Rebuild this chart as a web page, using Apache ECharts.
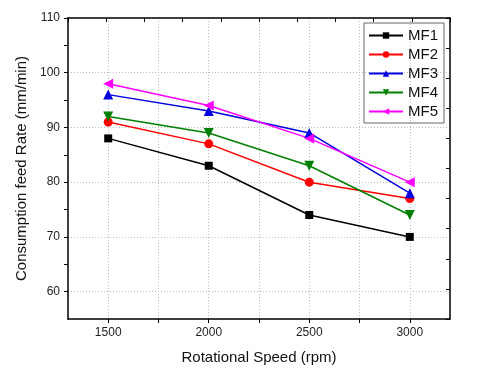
<!DOCTYPE html>
<html>
<head>
<meta charset="utf-8">
<script src="https://cdn.jsdelivr.net/npm/echarts@6/dist/echarts.min.js"></script>
<style>
  html, body { margin: 0; padding: 0; background: #fff; }
  #chart { width: 480px; height: 389px; }
</style>
</head>
<body>
<div id="chart"></div>
<script>
// data
const speeds = [1500, 2000, 2500, 3000];
const mf1 = [88, 83, 74, 70];
const mf2 = [91, 87, 80, 77];
const mf3 = [96, 93, 89, 78];
const mf4 = [92, 89, 83, 74];
const mf5 = [98, 94, 88, 80];

const xLabels = [1500, 2000, 2500, 3000];
const xTicks = [1500, 1750, 2000, 2250, 2500, 2750, 3000];
const yLabels = [60, 70, 80, 90, 100, 110];
const yTicks = [60, 65, 70, 75, 80, 85, 90, 95, 100, 105, 110];
const yGrid = [60, 70, 80, 90, 100];

const font = 'Liberation Sans, Arial, sans-serif';

function pairs(vals) {
  return speeds.map((s, i) => [s, vals[i]]);
}

function mkSeries(name, vals, color, symbol, size, rot) {
  return {
    name: name,
    type: 'line',
    xAxisIndex: 0,
    yAxisIndex: 0,
    data: pairs(vals),
    symbol: symbol,
    symbolSize: size,
    symbolRotate: rot,
    showAllSymbol: true,
    lineStyle: { color: color, width: 1.5 },
    itemStyle: { color: color },
    emphasis: { disabled: true }
  };
}

const chart = echarts.init(document.getElementById('chart'));

const option = {
  backgroundColor: '#fff',
  animation: false,
  textStyle: { fontFamily: font },
  grid: { left: 68, right: 30, top: 18, bottom: 70 },
  legend: {
    orient: 'vertical',
    left: 364,
    top: 23,
    padding: [5, 6, 4, 4],
    itemWidth: 34,
    itemHeight: 8,
    itemGap: 4,
    borderColor: '#666',
    borderWidth: 1,
    textStyle: { fontSize: 15, lineHeight: 15, color: '#111', fontFamily: font },
    data: ['MF1', 'MF2', 'MF3', 'MF4', 'MF5']
  },
  xAxis: [
    {
      type: 'value',
      position: 'bottom',
      min: 1300,
      max: 3200,
      name: 'Rotational Speed (rpm)',
      nameLocation: 'middle',
      nameGap: 31,
      nameTextStyle: { fontSize: 15, color: '#111', fontFamily: font },
      axisLine: { lineStyle: { color: '#000', width: 1.5 } },
      axisTick: { customValues: xTicks, length: 4, lineStyle: { color: '#000' } },
      axisLabel: {
        customValues: xLabels, fontSize: 12, color: '#222', margin: 8,
        formatter: v => String(v)
      },
      splitLine: { show: true, lineStyle: { color: '#bbb', type: [1, 2], width: 1 } }
    },
    {
      type: 'value',
      position: 'top',
      min: 0,
      max: 10,
      interval: 1,
      axisLine: { show: true, onZero: false, lineStyle: { color: '#000', width: 1.5 } },
      axisTick: { show: true, inside: true, length: 4, lineStyle: { color: '#000' } },
      axisLabel: { show: false },
      splitLine: { show: false }
    }
  ],
  yAxis: [
    {
      type: 'value',
      position: 'left',
      min: 55,
      max: 110,
      name: 'Consumption feed Rate (mm/min)',
      nameLocation: 'middle',
      nameGap: 36,
      nameTextStyle: { fontSize: 15, color: '#111', fontFamily: font },
      axisLine: { show: true, lineStyle: { color: '#000', width: 1.5 } },
      axisTick: { show: true, customValues: yTicks, length: 4, lineStyle: { color: '#000' } },
      axisLabel: { customValues: yLabels, fontSize: 12, color: '#222', margin: 8 },
      splitLine: { show: false }
    },
    {
      type: 'value',
      position: 'right',
      min: 0,
      max: 10,
      interval: 1,
      axisLine: { show: true, onZero: false, lineStyle: { color: '#000', width: 1.5 } },
      axisTick: { show: true, inside: true, length: 4, lineStyle: { color: '#000' } },
      axisLabel: { show: false },
      splitLine: { show: false }
    },
    {
      // only for the dotted horizontal grid
      type: 'value',
      position: 'left',
      min: 55,
      max: 110,
      axisLine: { show: false },
      axisTick: { show: false, customValues: yGrid },
      axisLabel: { show: false },
      splitLine: { show: true, lineStyle: { color: '#bbb', type: [1, 2], width: 1 } }
    }
  ],
  series: [
    mkSeries('MF1', mf1, '#000000', 'rect', 8, 0),
    mkSeries('MF2', mf2, '#ff0000', 'circle', 9, 0),
    mkSeries('MF3', mf3, '#0000e0', 'triangle', 10, 0),
    mkSeries('MF4', mf4, '#008000', 'triangle', 10, 180),
    mkSeries('MF5', mf5, '#ff00ff', 'triangle', 10, 90)
  ]
};

chart.setOption(option);
</script>
</body>
</html>
